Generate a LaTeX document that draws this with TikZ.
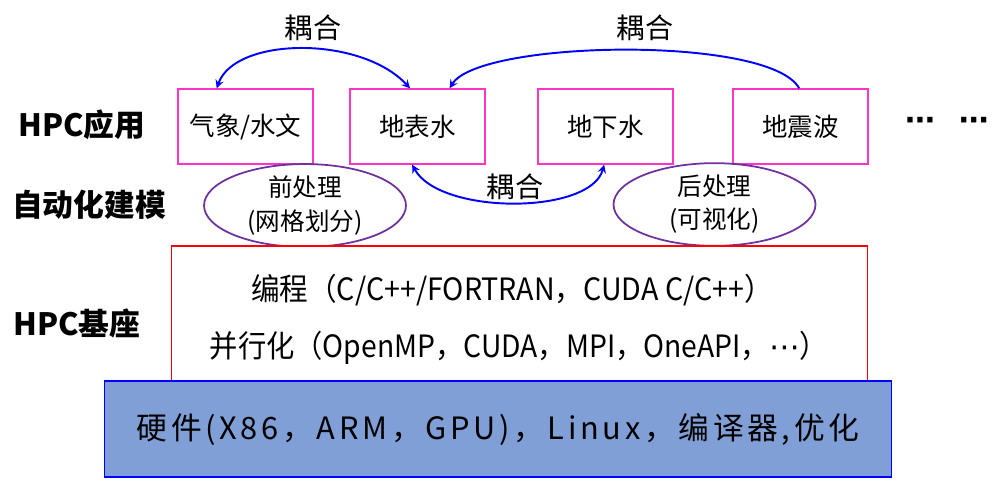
\documentclass[tikz,border=0pt]{standalone}
\usepackage{fontspec}
\setmainfont{Noto Sans CJK SC}
\newfontfamily\symfont{DejaVu Sans}
\usetikzlibrary{shapes.geometric}
\definecolor{boxpink}{HTML}{FF33CC}
\definecolor{ovalpurple}{HTML}{7030A0}
\definecolor{basefill}{HTML}{7F9FD6}

\begin{document}
\begin{tikzpicture}[x=0.02cm, y=0.02cm,
  appbox/.style={draw=boxpink, line width=0.8pt, minimum width=2.7cm,
    minimum height=1.5cm, inner sep=0pt, font=\fontsize{14.5}{17}\selectfont},
  prepost/.style={ellipse, draw=ovalpurple, line width=1pt, minimum width=4.04cm,
    minimum height=1.5cm, inner sep=0pt, align=center,
    font=\fontsize{14}{18.8}\selectfont},
  couple/.style={blue, line width=1.1pt, >=stealth},
  coupletext/.style={font=\fontsize{16}{19}\selectfont},
  layername/.style={font=\bfseries\fontsize{17.5}{20}\selectfont},
  baseline/.style={font=\fontsize{17.5}{20}\selectfont}]

  \useasboundingbox (0,0) rectangle (997,485);

  % --- layer names ---
  \node[layername] (appname) at (82,360) {HPC应用};
  \node[layername] (modelname) at (89,280) {自动化建模};
  \node[layername] (basename) at (77,162) {HPC基座};

  % --- applications ---
  \node[appbox] (box1) at (245.5,358.5) {气象/水文};
  \node[appbox] (box2) at (417.5,358.5) {地表水};
  \node[appbox] (box3) at (605.5,358.5) {地下水};
  \node[appbox] (box4) at (800.5,358.5) {地震波};
  \node[font=\symfont\bfseries\fontsize{17}{19}\selectfont] (more) at (947,361) {⋯\hspace{0.8em}⋯};

  % --- pre/post processing ---
  \node[prepost] (pre) at (305,279.5) {前处理\\(网格划分)};
  \node[prepost] (post) at (714.5,280.5) {后处理\\(可视化)};

  % --- coupling ---
  \draw[couple, <->] (box1.127) .. controls (235,448) and (360,450) .. (box2.101);
  \draw[couple, ->] (box4.92) .. controls (770,450) and (480,445) .. (box2.50);
  \draw[couple, <->] (box2.262) .. controls (440,270) and (590,270) .. (box3.268);
  \node[coupletext] (c1) at (313,457) {耦合};
  \node[coupletext] (c2) at (645,457) {耦合};
  \node[coupletext] (c3) at (515,298) {耦合};

  % --- base ---
  \node[draw=red, fill=white, line width=0.6pt, minimum width=13.94cm,
    minimum height=2.7cm] (soft) at (519.5,171.5) {};
  \node[baseline] (lang) at (512,195)
    {\addfontfeature{FakeStretch=0.93}编程（C/C++/FORTRAN，CUDA C/C++）};
  \node[baseline] (par) at (519,137)
    {\addfontfeature{FakeStretch=0.92}并行化（OpenMP，CUDA，MPI，OneAPI，{\symfont ⋯}）};
  \node[draw=blue, fill=basefill, line width=0.6pt, minimum width=15.76cm,
    minimum height=1.92cm, baseline] (hw) at (498,56)
    {\addfontfeature{LetterSpace=12}硬件(X86，ARM，GPU)，Linux，编译器,优化};

\end{tikzpicture}
\end{document}
